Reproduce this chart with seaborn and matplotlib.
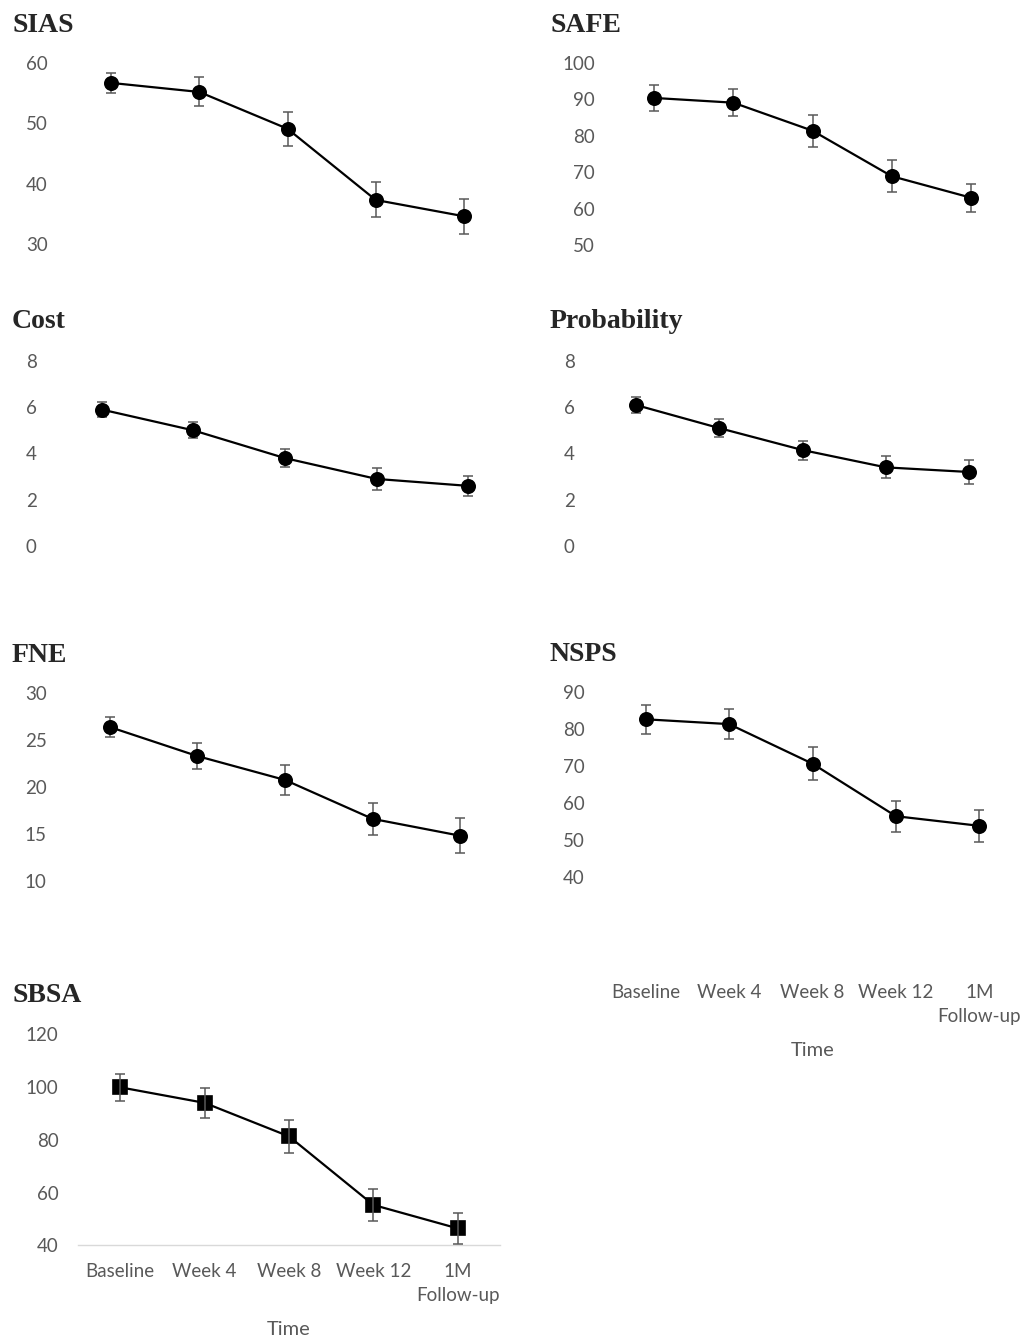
import matplotlib
matplotlib.use("Agg")
import matplotlib.pyplot as plt
import seaborn as sns

# time points
times = ["Baseline", "Week 4", "Week 8", "Week 12", "1M\nFollow-up"]

# means and standard errors
sias = [56.7, 55.2, 49.1, 37.3, 34.6]
sias_err = [1.7, 2.4, 2.8, 2.9, 2.9]
safe = [90.4, 89.1, 81.4, 68.9, 63.0]
safe_err = [3.5, 3.7, 4.4, 4.4, 3.8]
cost = [5.9, 5.0, 3.8, 2.9, 2.6]
cost_err = [0.33, 0.35, 0.38, 0.48, 0.44]
prob = [6.1, 5.1, 4.15, 3.4, 3.2]
prob_err = [0.36, 0.4, 0.41, 0.48, 0.52]
fne = [26.4, 23.3, 20.75, 16.6, 14.8]
fne_err = [1.1, 1.4, 1.65, 1.7, 1.85]
nsps = [82.7, 81.4, 70.7, 56.5, 53.9]
nsps_err = [3.85, 4.0, 4.5, 4.2, 4.3]
sbsa = [99.9, 94.0, 81.3, 55.3, 46.4]
sbsa_err = [5.0, 5.6, 6.3, 6.2, 6.0]

sns.set_style("white")
plt.rcParams['font.family'] = ['Lato', 'DejaVu Sans']

W, H = 1023, 1341
fig = plt.figure(figsize=(W / 100, H / 100), dpi=100)
GRAY = "#595959"

# (title, means, errors, yticks, ylim, marker, box in pixels L R T B, title pos, show x labels)
panels = [
    ("SIAS", sias, sias_err, [30, 40, 50, 60], (30, 60), "o", (67, 508, 63, 244), (12, 32), False),
    ("SAFE", safe, safe_err, [50, 60, 70, 80, 90, 100], (50, 100), "o", (614.5, 1010.5, 63, 245), (550, 32), False),
    ("Cost", cost, cost_err, [0, 2, 4, 6, 8], (0, 8), "o", (56, 514, 361, 546), (12, 328), False),
    ("Probability", prob, prob_err, [0, 2, 4, 6, 8], (0, 8), "o", (594, 1011, 361, 546), (550, 328), False),
    ("FNE", fne, fne_err, [10, 15, 20, 25, 30], (10, 30), "o", (66, 504, 693.3, 880.7), (12, 662), False),
    ("NSPS", nsps, nsps_err, [40, 50, 60, 70, 80, 90], (16, 90), "o", (604, 1021, 692.3, 966), (550, 661), True),
    ("SBSA", sbsa, sbsa_err, [40, 60, 80, 100, 120], (40, 120), "s", (78, 500, 1034.3, 1245.3), (12, 1002), True),
]

for title, means, errs, yticks, ylim, mk, box, tpos, showx in panels:
    L, R, T, B = box
    ax = fig.add_axes([L / W, 1 - B / H, (R - L) / W, (B - T) / H])
    ms = 9.6 if mk == "o" else 9.4
    sns.pointplot(x=times, y=means, color="black", markers=mk, linestyles="-",
                  errorbar=None, ax=ax, markersize=ms, linewidth=1.6)
    for line in ax.lines:
        line.set_clip_on(False)
    eb = ax.errorbar(range(len(times)), means, yerr=errs, fmt="none", ecolor=GRAY,
                     elinewidth=1.1, capsize=3.3, capthick=1.1,
                     zorder=5 if mk == "s" else 1)
    for art in list(eb.lines[1]) + list(eb.lines[2]):
        art.set_clip_on(False)
    ax.set_xlim(-0.5, len(times) - 0.5)
    ax.set_ylim(*ylim)
    ax.set_yticks(yticks)
    ax.tick_params(axis="y", length=0, pad=14, labelsize=13.5, labelcolor=GRAY)
    ax.tick_params(axis="x", length=0, pad=13, labelsize=13.5, labelcolor=GRAY)
    for s in ax.spines.values():
        s.set_visible(False)
    if showx:
        for lbl in ax.get_xticklabels():
            lbl.set_linespacing(1.5)
        ax.set_xlabel("Time", fontsize=14.5, color=GRAY, labelpad=12)
        if title == "SBSA":
            ax.spines["bottom"].set_visible(True)
            ax.spines["bottom"].set_color("#d9d9d9")
            ax.spines["bottom"].set_linewidth(1.0)
    else:
        ax.set_xticklabels([])
        ax.set_xlabel("")
    fig.text(tpos[0] / W, 1 - tpos[1] / H, title, fontsize=20, fontweight="bold",
             family="Liberation Serif", ha="left", va="baseline")

fig.savefig("out.png", dpi=100)
